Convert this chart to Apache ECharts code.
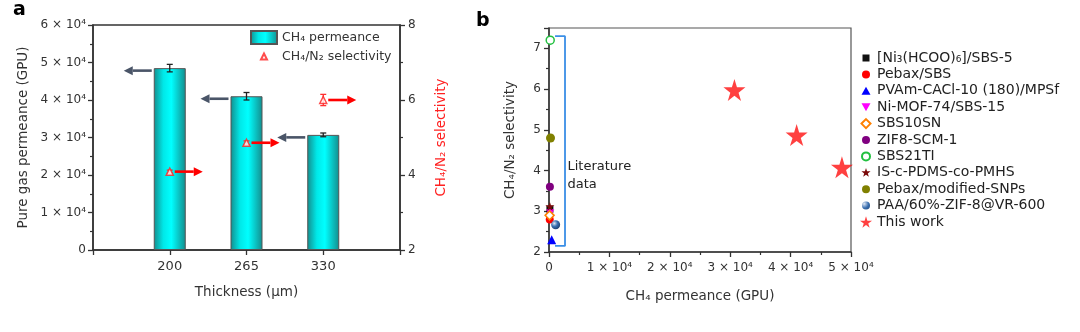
<!DOCTYPE html>
<html><head><meta charset="utf-8">
<script src="https://cdn.jsdelivr.net/npm/echarts@6/dist/echarts.min.js"></script>
<style>html,body{margin:0;padding:0;background:#fff}#c{width:1080px;height:332px}</style>
</head><body><div id="c"></div>
<script>
// ---- Panel a data ----
const thickness = ['200', '265', '330'];
const permeance = [48500, 41000, 30700];
const permeanceErr = [1000, 1000, 500];
const selectivity = [4.09, 4.86, 6.0];
const selectivityErr = [0.04, 0.05, 0.15];
const leftTicks = [0, 10000, 20000, 30000, 40000, 50000, 60000];
// ---- Panel b data ----
const litNames = ['[Ni₃(HCOO)₆]/SBS-5', 'Pebax/SBS', 'PVAm-CACl-10 (180)/MPSf', 'Ni-MOF-74/SBS-15', 'SBS10SN', 'ZIF8-SCM-1', 'SBS21TI', 'IS-c-PDMS-co-PMHS', 'Pebax/modified-SNPs', 'PAA/60%-ZIF-8@VR-600'];
const litX = [150, 120, 450, 200, 100, 150, 200, 150, 250, 1100];
const litY = [3.05, 2.8, 2.3, 2.95, 2.9, 3.6, 7.2, 3.12, 4.8, 2.67];
const thisWorkX = [48500, 41000, 30700];
const thisWorkY = [4.08, 4.87, 5.98];
const bracketX = [1000, 2650, 2650, 1000];
const bracketY = [7.3, 7.3, 2.15, 2.15];

const FONT = 'DejaVu Sans';
const TXT = '#333';
const catData = [''].concat(thickness, ['']);
const sup = v => v === 0 ? '0' : (v / 1e4) + ' × 10⁴';
const STAR = 'path://M50,0 L61,35 L98,35 L68,57 L79,91 L50,70 L21,91 L32,57 L2,35 L39,35 Z';

const barGrad = new echarts.graphic.LinearGradient(0, 0, 1, 0, [
  {offset: 0, color: '#148c8c'}, {offset: 0.3, color: '#00e8e8'},
  {offset: 0.55, color: '#00ffff'}, {offset: 1, color: '#148c8c'}]);

function errRender(color) {
  return function (params, api) {
    const x = api.value(0), y = api.value(1), e = api.value(2);
    const hi = api.coord([x, y + e]), lo = api.coord([x, y - e]);
    const st = {stroke: color, lineWidth: 1.3};
    return {type: 'group', children: [
      {type: 'line', shape: {x1: hi[0], y1: hi[1], x2: lo[0], y2: lo[1]}, style: st},
      {type: 'line', shape: {x1: hi[0] - 3, y1: hi[1], x2: hi[0] + 3, y2: hi[1]}, style: st},
      {type: 'line', shape: {x1: lo[0] - 3, y1: lo[1], x2: lo[0] + 3, y2: lo[1]}, style: st}]};
  };
}
function arrowRender(color, x0, x1, dy) {
  return function (params, api) {
    const p = api.coord([api.value(0), api.value(1)]);
    const y = p[1] + dy, sx = p[0] + x0, ex = p[0] + x1;
    const dir = Math.sign(ex - sx), hb = ex - dir * 9;
    return {type: 'group', children: [
      {type: 'line', shape: {x1: sx, y1: y, x2: hb, y2: y}, style: {stroke: color, lineWidth: 2.6}},
      {type: 'polygon', shape: {points: [[ex, y], [hb, y - 4.5], [hb, y + 4.5]]}, style: {fill: color}}]};
  };
}

const litStyles = [
  {symbol: 'rect', size: 7, icon: 'path://M0,0 M12,12 M2.5,2.5 L9.5,2.5 L9.5,9.5 L2.5,9.5 Z', color: '#111'},
  {symbol: 'circle', size: 8, icon: 'path://M0,0 M12,12 M10,6 A4,4 0 1 1 2,6 A4,4 0 1 1 10,6 Z', color: '#ff0000'},
  {symbol: 'triangle', size: 9, icon: 'path://M0,0 M12,12 M6,2 L10.5,10 L1.5,10 Z', color: '#0000ff'},
  {symbol: 'path://M0,0 L10,0 L5,9 Z', size: 8, icon: 'path://M0,0 M12,12 M1.5,2 L10.5,2 L6,10 Z', color: '#ff00ff'},
  {symbol: 'diamond', size: 9, icon: 'path://M0,0 M12,12 M6,1.5 L10.5,6 L6,10.5 L1.5,6 Z', color: '#fff', border: '#ff8000'},
  {symbol: 'circle', size: 8, icon: 'path://M0,0 M12,12 M10,6 A4,4 0 1 1 2,6 A4,4 0 1 1 10,6 Z', color: '#800080'},
  {symbol: 'circle', size: 8, icon: 'path://M0,0 M12,12 M10,6 A4,4 0 1 1 2,6 A4,4 0 1 1 10,6 Z', color: '#fff', border: '#22c040'},
  {symbol: STAR, size: 9, icon: 'path://M0,0 M100,100 M50,10 L59,38 L88,38 L65,55 L74,83 L50,66 L26,83 L35,55 L12,38 L41,38 Z', color: '#7a0a0a'},
  {symbol: 'circle', size: 9, icon: 'path://M0,0 M12,12 M10,6 A4,4 0 1 1 2,6 A4,4 0 1 1 10,6 Z', color: '#808000'},
  {symbol: 'circle', size: 9, icon: 'path://M0,0 M12,12 M10,6 A4,4 0 1 1 2,6 A4,4 0 1 1 10,6 Z', color: new echarts.graphic.RadialGradient(0.35, 0.35, 0.7, [{offset: 0, color: '#dfe8f5'}, {offset: 0.5, color: '#3a6fb0'}, {offset: 1, color: '#1c3f70'}])}
];

const litSeries = litNames.map((n, i) => ({
  name: n, type: 'scatter', xAxisIndex: 1, yAxisIndex: 2,
  symbol: litStyles[i].symbol, symbolSize: litStyles[i].size,
  itemStyle: {color: litStyles[i].color, borderColor: litStyles[i].border || litStyles[i].color, borderWidth: litStyles[i].border ? 1.5 : 0, opacity: 1},
  data: [[litX[i], litY[i]]], z: 5
}));

const axisLine = {show: true, lineStyle: {color: '#333', width: 1.5}};
const tickOut = {show: true, inside: false, length: 5, lineStyle: {color: '#333', width: 1.3}};
const minorOut = {show: true, splitNumber: 2, length: 3, lineStyle: {color: '#333', width: 1.2}};
const lbl = {color: TXT, fontFamily: FONT, fontSize: 12};
const nameStyle = {color: TXT, fontSize: 13.5, fontFamily: FONT};

const option = {
  animation: false,
  textStyle: {fontFamily: FONT},
  title: [
    {text: 'a', left: 13, top: 1, padding: 0, textStyle: {fontSize: 19, fontWeight: 'bold', color: '#000', fontFamily: FONT}},
    {text: 'b', left: 476, top: 12, padding: 0, textStyle: {fontSize: 19, fontWeight: 'bold', color: '#000', fontFamily: FONT}}
  ],
  grid: [
    {left: 93, top: 25, width: 307, height: 225, show: true, borderColor: '#333', borderWidth: 1.5},
    {left: 549, top: 28, width: 302, height: 224, show: true, borderColor: '#555', borderWidth: 1.2}
  ],
  legend: [
    {orient: 'vertical', left: 250, top: 30, padding: 0, itemGap: 4, itemWidth: 26, itemHeight: 13,
     textStyle: {color: TXT, fontSize: 12.5, fontFamily: FONT},
     data: [{name: 'CH₄ permeance', icon: 'rect'},
            {name: 'CH₄/N₂ selectivity', icon: 'path://M0,0 M26,13 M10,9.5 L13,3.5 L16,9.5 Z'}]},
    {orient: 'vertical', left: 859, top: 51, padding: 0, itemGap: 2.4, itemWidth: 12, itemHeight: 12,
     textStyle: {color: '#222', fontSize: 14, lineHeight: 14, fontFamily: FONT},
     data: litNames.map((n, i) => ({name: n, icon: litStyles[i].icon})).concat([{name: 'This work', icon: STAR}])}
  ],
  xAxis: [
    {type: 'category', gridIndex: 0, data: catData, boundaryGap: false,
     axisLine: axisLine, axisTick: tickOut, axisLabel: Object.assign({}, lbl, {margin: 10, fontSize: 13}),
     name: 'Thickness (μm)', nameLocation: 'middle', nameGap: 35,
     nameTextStyle: nameStyle, splitLine: {show: false}},
    {type: 'value', gridIndex: 1, min: 0, max: 50000, interval: 10000,
     axisLine: axisLine, axisTick: tickOut, minorTick: minorOut, axisLabel: Object.assign({formatter: sup, margin: 10}, lbl),
     name: 'CH₄ permeance (GPU)', nameLocation: 'middle', nameGap: 37,
     nameTextStyle: nameStyle, splitLine: {show: false}}
  ],
  yAxis: [
    {type: 'value', gridIndex: 0, min: leftTicks[0], max: leftTicks[leftTicks.length - 1], interval: 10000, position: 'left',
     axisLine: axisLine, axisTick: tickOut, minorTick: minorOut, axisLabel: Object.assign({formatter: sup, margin: 7}, lbl),
     name: 'Pure gas permeance (GPU)', nameLocation: 'middle', nameGap: 63,
     nameTextStyle: nameStyle, splitLine: {show: false}},
    {type: 'value', gridIndex: 0, min: 2, max: 8, interval: 2, position: 'right',
     axisLine: axisLine, axisTick: tickOut, minorTick: minorOut, axisLabel: Object.assign({margin: 8}, lbl),
     name: 'CH₄/N₂ selectivity', nameLocation: 'middle', nameGap: 34,
     nameTextStyle: Object.assign({}, nameStyle, {color: '#ff2020'}), splitLine: {show: false}},
    {type: 'value', gridIndex: 1, min: 2, max: 7.5, interval: 1,
     axisLine: axisLine, axisTick: tickOut, minorTick: minorOut, axisLabel: Object.assign({margin: 8, showMaxLabel: false}, lbl),
     name: 'CH₄/N₂ selectivity', nameLocation: 'middle', nameGap: 32,
     nameTextStyle: nameStyle, splitLine: {show: false}}
  ],
  series: [
    {name: 'CH₄ permeance', type: 'bar', xAxisIndex: 0, yAxisIndex: 0, barWidth: 32,
     itemStyle: {color: barGrad, borderColor: '#555', borderWidth: 1},
     data: [null].concat(permeance, [null])},
    {name: 'permErr', type: 'custom', xAxisIndex: 0, yAxisIndex: 0, z: 4,
     renderItem: errRender('#222'), data: permeance.map((v, i) => [i + 1, v, permeanceErr[i]])},
    {name: 'permArrow', type: 'custom', xAxisIndex: 0, yAxisIndex: 0, z: 4,
     renderItem: arrowRender('#4a5568', -18, -46, 2.5), data: permeance.map((v, i) => [i + 1, v])},
    {name: 'selErr', type: 'custom', xAxisIndex: 0, yAxisIndex: 1, z: 4,
     renderItem: errRender('#ff3030'), data: selectivity.map((v, i) => [i + 1, v, selectivityErr[i]])},
    {name: 'selArrow', type: 'custom', xAxisIndex: 0, yAxisIndex: 1, z: 4,
     renderItem: arrowRender('#ff0000', 5, 33, 0), data: selectivity.map((v, i) => [i + 1, v])},
    {name: 'CH₄/N₂ selectivity', type: 'scatter', xAxisIndex: 0, yAxisIndex: 1, z: 5,
     symbol: 'triangle', symbolSize: 7, itemStyle: {color: '#fff', borderColor: '#ff2020', borderWidth: 1.5},
     data: selectivity.map((v, i) => [i + 1, v])},
    {name: 'bracket', type: 'line', xAxisIndex: 1, yAxisIndex: 2, symbol: 'none', silent: true,
     lineStyle: {color: '#3a8ee6', width: 1.8}, data: bracketX.map((x, i) => [x, bracketY[i]]),
     markPoint: {symbol: 'circle', symbolSize: 0, data: [{coord: [2900, 3.87], value: 'Literature\ndata'}],
       label: {show: true, position: 'right', formatter: 'Literature\ndata', color: '#222', fontSize: 13, lineHeight: 18, fontFamily: FONT, offset: [-4, 0]}}}
  ].concat(litSeries, [
    {name: 'This work', type: 'scatter', xAxisIndex: 1, yAxisIndex: 2, z: 6,
     symbol: STAR, symbolSize: 22,
     itemStyle: {color: '#ff1010'}, data: thisWorkX.map((x, i) => [x, thisWorkY[i]])}
  ])
};
const chart = echarts.init(document.getElementById('c'), null, {renderer: 'canvas'});
chart.setOption(option);
</script></body></html>
